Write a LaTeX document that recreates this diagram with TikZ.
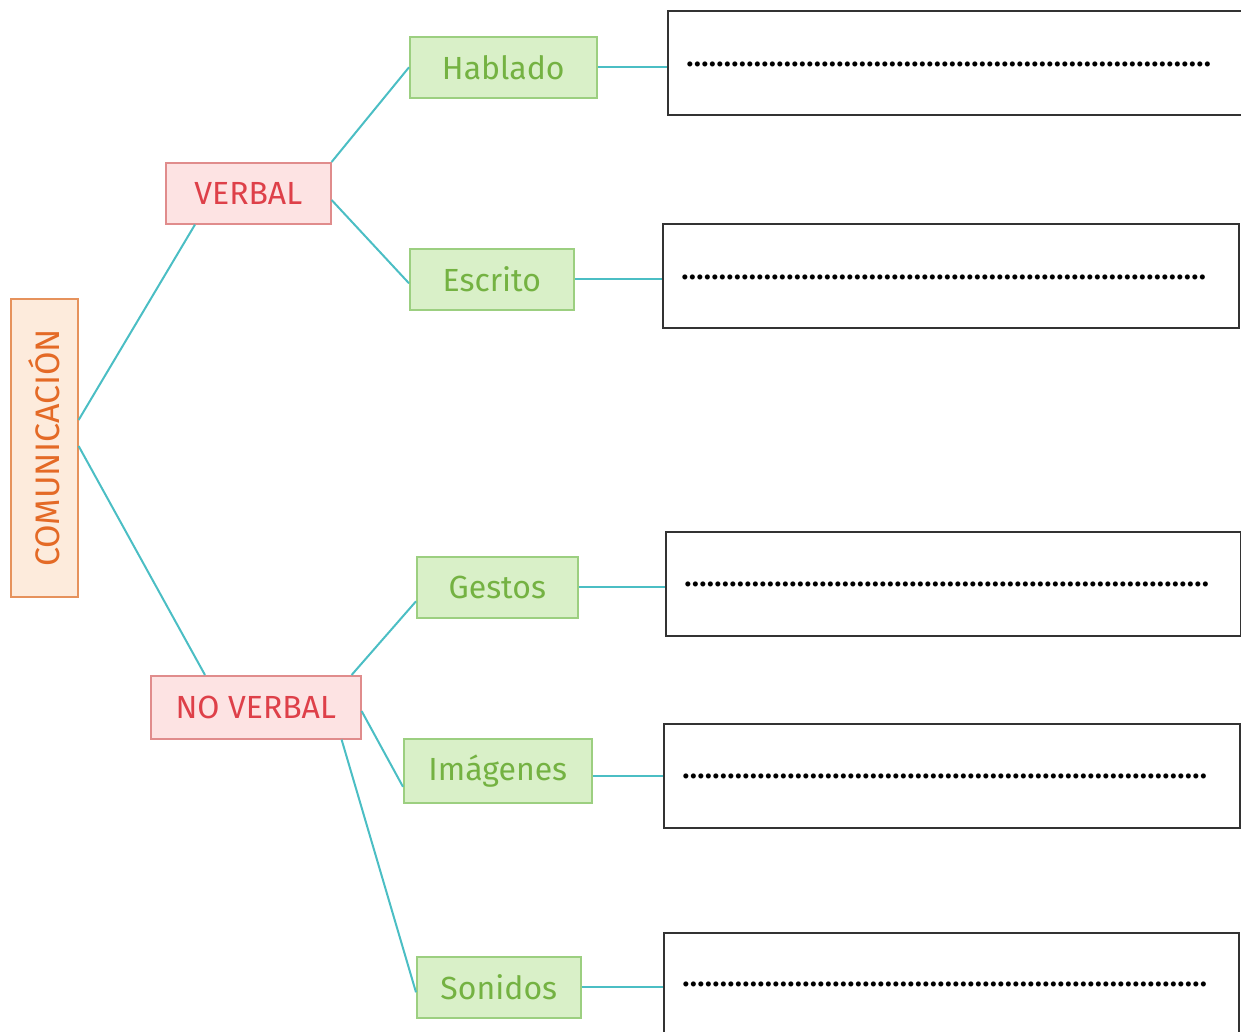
\documentclass[tikz,border=0pt]{standalone}
\usepackage{fontspec}
\setmainfont{Fira Sans}
\usetikzlibrary{calc}
\definecolor{teal1}{HTML}{4BBEC4}
\definecolor{gfill}{HTML}{D9F0C8}
\definecolor{gdraw}{HTML}{9CCF80}
\definecolor{gtext}{HTML}{74B242}
\definecolor{pfill}{HTML}{FDE3E3}
\definecolor{pdraw}{HTML}{E08C8C}
\definecolor{ptext}{HTML}{DE4049}
\definecolor{ofill}{HTML}{FDEBDC}
\definecolor{odraw}{HTML}{E6925C}
\definecolor{otext}{HTML}{E46A26}
\definecolor{adraw}{HTML}{333333}
\tikzset{
  box/.style={draw, line width=1.6pt, inner sep=0pt, anchor=north west, font=\fontsize{32}{38}\selectfont},
  green/.style={box, fill=gfill, draw=gdraw, text=gtext},
  pink/.style={box, fill=pfill, draw=pdraw, text=ptext},
  orangebox/.style={box, fill=ofill, draw=odraw, text=otext},
  answer/.style={draw=adraw, line width=1.6pt, anchor=north west, inner sep=0pt},
  link/.style={draw=teal1, line width=2pt},
}
\newcommand{\dotrow}{\makebox[528pt][l]{\fontsize{28}{32}\selectfont\bfseries\leaders\hbox to 7.5pt{\hss.\hss}\hfill}}
\begin{document}
\begin{tikzpicture}[x=1pt,y=-1pt]
\useasboundingbox (0,0) rectangle (1241,1032);
% main node
\node[orangebox, minimum width=67pt, minimum height=298pt] (com) at (10,298) {\rotatebox{90}{\fontsize{34}{40}\selectfont COMUNICACIÓN}};
% second level
\node[pink, minimum width=165pt, minimum height=61pt] (verbal) at (165,162) {VERBAL};
\node[pink, minimum width=210pt, minimum height=63pt] (noverbal) at (150,675) {NO VERBAL};
% third level
\node[green, minimum width=187pt, minimum height=61pt] (hablado) at (409,36) {Hablado};
\node[green, minimum width=164pt, minimum height=61pt] (escrito) at (409,248) {Escrito};
\node[green, minimum width=161pt, minimum height=61pt] (gestos) at (416,556) {Gestos};
\node[green, minimum width=188pt, minimum height=64pt] (imagenes) at (403,738) {Imágenes};
\node[green, minimum width=164pt, minimum height=61pt] (sonidos) at (416,956) {Sonidos};
% answer boxes
\node[answer, minimum width=574pt, minimum height=104pt] (a1) at (667,10) {};
\node[answer, minimum width=576pt, minimum height=104pt] (a2) at (662,223) {};
\node[answer, minimum width=575pt, minimum height=104pt] (a3) at (665,531) {};
\node[answer, minimum width=576pt, minimum height=104pt] (a4) at (663,723) {};
\node[answer, minimum width=575pt, minimum height=110pt] (a5) at (663,932) {};
\node[anchor=west, inner sep=0pt] (d1) at (686,64) {\dotrow};
\node[anchor=west, inner sep=0pt] (d2) at (681,277) {\dotrow};
\node[anchor=west, inner sep=0pt] (d3) at (684,584) {\dotrow};
\node[anchor=west, inner sep=0pt] (d4) at (682,776) {\dotrow};
\node[anchor=west, inner sep=0pt] (d5) at (682,984) {\dotrow};
% connectors
\draw[link] ($(com.north east)+(0,122)$) -- ($(verbal.south west)+(30,0)$);
\draw[link] ($(com.north east)+(0,148)$) -- ($(noverbal.north west)+(55,0)$);
\draw[link] (verbal.north east) -- (hablado.west);
\draw[link] ($(verbal.north east)+(0,38)$) -- ($(escrito.west)+(0,4)$);
\draw[link] ($(noverbal.north east)+(-10,0)$) -- ($(gestos.west)+(0,14)$);
\draw[link] ($(noverbal.north east)+(0,36)$) -- ($(imagenes.west)+(0,16)$);
\draw[link] ($(noverbal.south east)+(-20,0)$) -- ($(sonidos.west)+(0,5)$);
\draw[link] (hablado.east) -- (hablado.east -| a1.west);
\draw[link] (escrito.east) -- (escrito.east -| a2.west);
\draw[link] (gestos.east) -- (gestos.east -| a3.west);
\draw[link] ($(imagenes.east)+(0,5)$) -- ($(imagenes.east -| a4.west)+(0,5)$);
\draw[link] (sonidos.east) -- (sonidos.east -| a5.west);
\end{tikzpicture}
\end{document}
